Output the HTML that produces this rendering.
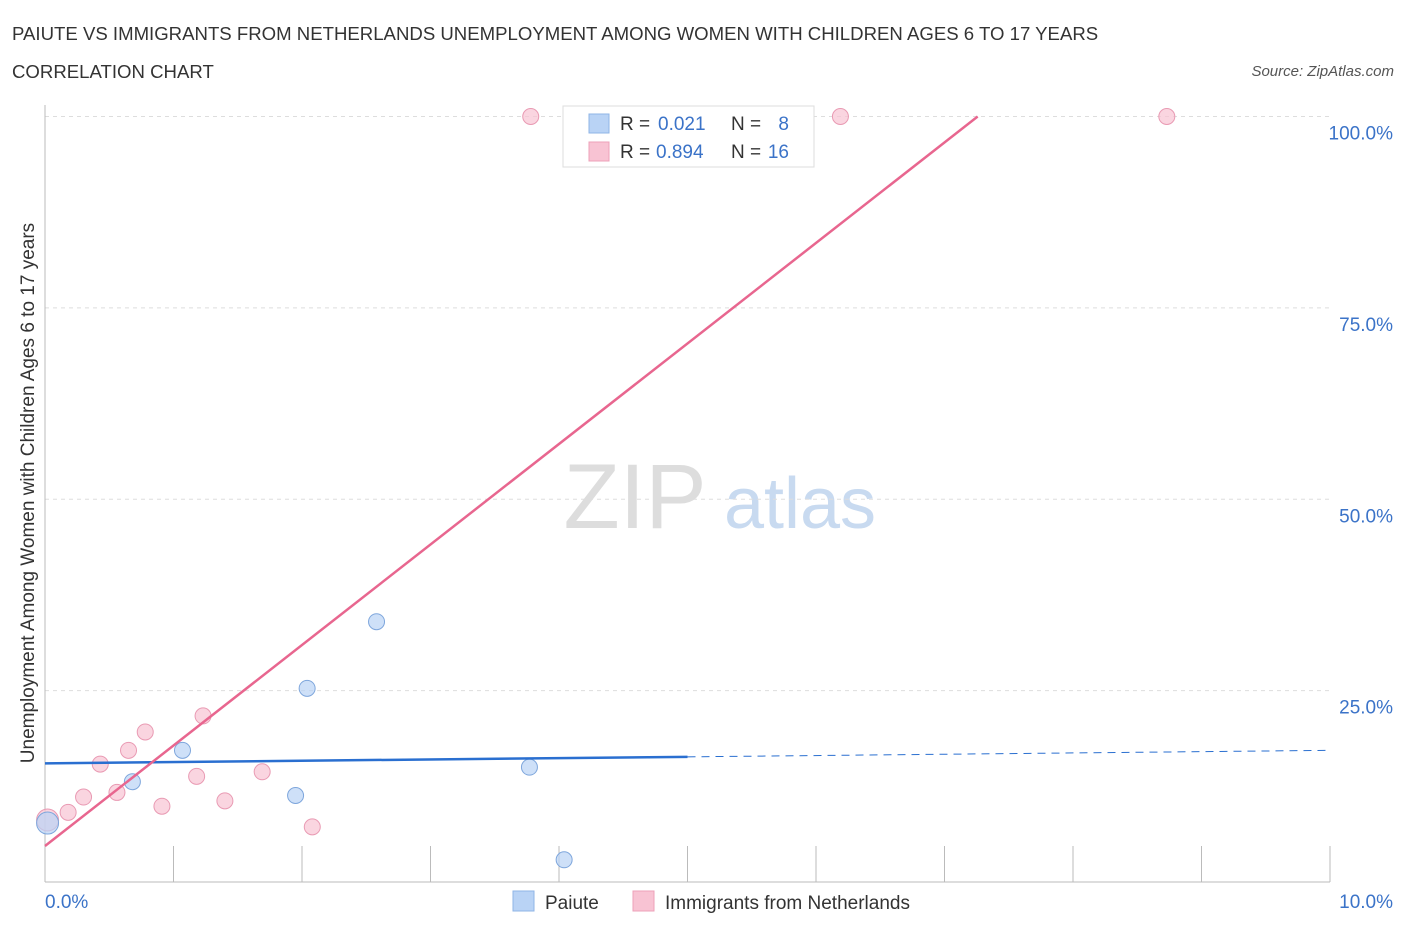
<!DOCTYPE html>
<html><head><meta charset="utf-8"><style>
body{margin:0;background:#fff;font-family:"Liberation Sans",sans-serif;}
svg text{font-family:"Liberation Sans",sans-serif;}
</style></head><body>
<svg id="c" width="1406" height="930" xmlns="http://www.w3.org/2000/svg">
<text x="12" y="40" font-size="18.6" fill="#333">PAIUTE VS IMMIGRANTS FROM NETHERLANDS UNEMPLOYMENT AMONG WOMEN WITH CHILDREN AGES 6 TO 17 YEARS</text>
<text x="12" y="78" font-size="18.6" fill="#333">CORRELATION CHART</text>
<text x="1394" y="76" font-size="15" fill="#555" font-style="italic" text-anchor="end">Source: ZipAtlas.com</text>
<text x="635" y="528" font-size="92" fill="#ddd" font-family="Liberation Serif" text-anchor="middle">ZIP</text>
<text x="800" y="528" font-size="72" fill="#c8daf0" text-anchor="middle">atlas</text>
<text transform="translate(34,493) rotate(-90)" font-size="19" fill="#333" text-anchor="middle">Unemployment Among Women with Children Ages 6 to 17 years</text>
<g id="grid"></g><g id="marks"></g>
<g>
<rect x="563" y="106" width="251" height="61" fill="#fff" stroke="#ddd"/>
<rect x="589" y="114" width="20" height="19" fill="#b9d3f5" stroke="#8fb4e6"/>
<text x="620" y="130" font-size="19" fill="#333">R =</text>
<text x="658" y="130" font-size="19" fill="#3b73c8">0.021</text>
<text x="731" y="130" font-size="19" fill="#333">N =</text>
<text x="789" y="130" font-size="19" fill="#3b73c8" text-anchor="end">8</text>
<rect x="589" y="142" width="20" height="19" fill="#f8c3d3" stroke="#eea0b8"/>
<text x="620" y="158" font-size="19" fill="#333">R =</text>
<text x="656" y="158" font-size="19" fill="#3b73c8">0.894</text>
<text x="731" y="158" font-size="19" fill="#333">N =</text>
<text x="789" y="158" font-size="19" fill="#3b73c8" text-anchor="end">16</text>
</g>
<g>
<rect x="513" y="891" width="21" height="20" fill="#b9d3f5" stroke="#8fb4e6"/>
<text x="545" y="909" font-size="19" fill="#333">Paiute</text>
<rect x="633" y="891" width="21" height="20" fill="#f8c3d3" stroke="#eea0b8"/>
<text x="665" y="909" font-size="19" fill="#333">Immigrants from Netherlands</text>
</g>
</svg>
<script>
const yTicks=[25,50,75,100];
const yTickLabels=["25.0%","50.0%","75.0%","100.0%"];
const blueX=[0.02,0.68,1.07,1.95,2.04,2.58,3.77,4.04];
const blueY=[7.7,13.1,17.2,11.3,25.3,34.0,15.0,2.9];
const pinkX=[0.02,0.18,0.30,0.43,0.56,0.65,0.78,0.91,1.18,1.23,1.40,1.69,2.08,3.78,6.19,8.73];
const pinkY=[8.1,9.1,11.1,15.4,11.7,17.2,19.6,9.9,13.8,21.7,10.6,14.4,7.2,100,100,100];
const blueLine=[15.5,17.2];   // value at x=0 and x=10
const pinkLine=[4.7,17.83];   // value at x=0 and x=1
const NS="http://www.w3.org/2000/svg";
function sx(v){return 45+v*128.5;}
function sy(v){return 882-v*7.655;}
function mk(p,t,a){const e=document.createElementNS(NS,t);for(const k in a)e.setAttribute(k,a[k]);p.appendChild(e);return e;}
const g=document.getElementById('grid'),m=document.getElementById('marks');
yTicks.forEach((t,i)=>{
 const l=mk(g,'line',{x1:45,x2:1330,y1:sy(t),y2:sy(t),stroke:'#ddd','stroke-dasharray':'4,4'});
 
 
 const tx=mk(g,'text',{x:1393,y:sy(t)+23,'font-size':19,fill:'#3b73c8','text-anchor':'end'});
 tx.textContent=yTickLabels[i];
 
 
});
mk(g,'line',{x1:45,x2:45,y1:105,y2:882,stroke:'#bbb'});
mk(g,'line',{x1:45,x2:1330,y1:882,y2:882,stroke:'#bbb'});
for(let i=0;i<=10;i++){const x=sx(i);mk(g,'line',{x1:x,x2:x,y1:846,y2:882,stroke:'#bbb'});}
let t0=mk(g,'text',{x:45,y:908,'font-size':19,fill:'#3b73c8'});t0.textContent='0.0%';

let t1=mk(g,'text',{x:1393,y:908,'font-size':19,fill:'#3b73c8','text-anchor':'end'});t1.textContent='10.0%';

function pt(x,y,fill,stroke,big){
 const c=mk(m,'circle',{cx:sx(x),cy:sy(y),r:big?11:8,fill:fill,stroke:stroke,'stroke-width':1,'fill-opacity':0.7});
 
 
}
pinkX.forEach((x,i)=>pt(x,pinkY[i],'#f8c3d3','#e99ab3',i==0));
blueX.forEach((x,i)=>pt(x,blueY[i],'#b9d3f5','#7ea6dc',i==0));
const bMid=blueLine[0]+(blueLine[1]-blueLine[0])*0.5;
const bl=mk(m,'line',{x1:sx(0),y1:sy(blueLine[0]),x2:sx(5),y2:sy(bMid),stroke:'#2a6fd0','stroke-width':2.5});

const bd=mk(m,'line',{x1:sx(5),y1:sy(bMid),x2:sx(10),y2:sy(blueLine[1]),stroke:'#2a6fd0','stroke-width':1,'stroke-dasharray':'8,6'});

const pEnd=(100-pinkLine[0])/(pinkLine[1]-pinkLine[0]);
const pl=mk(m,'line',{x1:sx(0),y1:sy(pinkLine[0]),x2:sx(pEnd),y2:sy(100),stroke:'#e8668f','stroke-width':2.5});

</script>
</body></html>
